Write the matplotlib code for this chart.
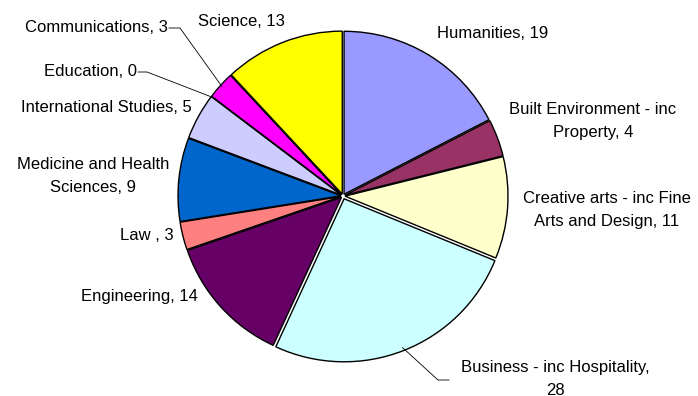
import numpy as np
import matplotlib
matplotlib.use("Agg")
import matplotlib.pyplot as plt

plt.rcParams['font.family'] = ['Liberation Sans', 'DejaVu Sans']

categories = ["Humanities", "Built Environment - inc\nProperty", "Creative arts - inc Fine\nArts and Design",
              "Business - inc Hospitality,\n", "Engineering", "Law ", "Medicine and Health\nSciences",
              "International Studies", "Education", "Communications", "Science"]
values = [19, 4, 11, 28, 14, 3, 9, 5, 0, 3, 13]
colors = ["#9999FF", "#993366", "#FFFFCC", "#CCFFFF", "#660066", "#FF8080", "#0066CC",
          "#CCCCFF", "#000080", "#FF00FF", "#FFFF00"]

W, H = 698, 396
fig = plt.figure(figsize=(W / 100, H / 100), dpi=100)
ax = fig.add_axes([0, 0, 1, 1])

cx, cy, R = 343, H - 196, 163
explode = [2.0] * len(values)
explode[3] = 3.0
ax.pie(values, colors=colors, startangle=90, counterclock=False, center=(cx, cy), radius=R,
       explode=explode, wedgeprops=dict(edgecolor='black', linewidth=1.0), frame=True)
ax.set_xlim(0, W)
ax.set_ylim(0, H)
ax.set_aspect('equal')
ax.axis('off')

total = sum(values)
cum = np.cumsum([0] + values)


def edge_point(i, r=R):
    mid = (cum[i] + values[i] / 2) / total * 360
    ang = np.deg2rad(90 - mid)
    return cx + r * np.cos(ang), cy + r * np.sin(ang)


fs = 12
def lab(i, x, y_img, ha='center'):
    txt = f"{categories[i]}, {values[i]}"
    if i == 3:
        txt = f"Business - inc Hospitality,\n{values[i]}"
    ax.text(x, H - y_img, txt, ha=ha, va='center', fontsize=fs, linespacing=1.6, color='black')

lab(0, 493, 33)
lab(1, 593, 121)
lab(2, 607, 210)
lab(3, 555, 379)
lab(4, 139, 297)
lab(5, 174, 235, ha='right')
lab(6, 93, 176)
lab(7, 192, 107, ha='right')
lab(8, 137, 72, ha='right')
lab(9, 168, 28, ha='right')
lab(10, 241, 21)

# leader lines
def leader(i, pts):
    ex, ey = edge_point(i)
    xs = [p[0] for p in pts] + [ex]
    ys = [H - p[1] for p in pts] + [ey]
    ax.plot(xs, ys, color='black', linewidth=0.6)

leader(9, [(169, 28), (180, 28)])
leader(8, [(138, 72), (147, 72)])
leader(3, [(449, 380), (438, 380)])

fig.savefig("out.png", dpi=100)
